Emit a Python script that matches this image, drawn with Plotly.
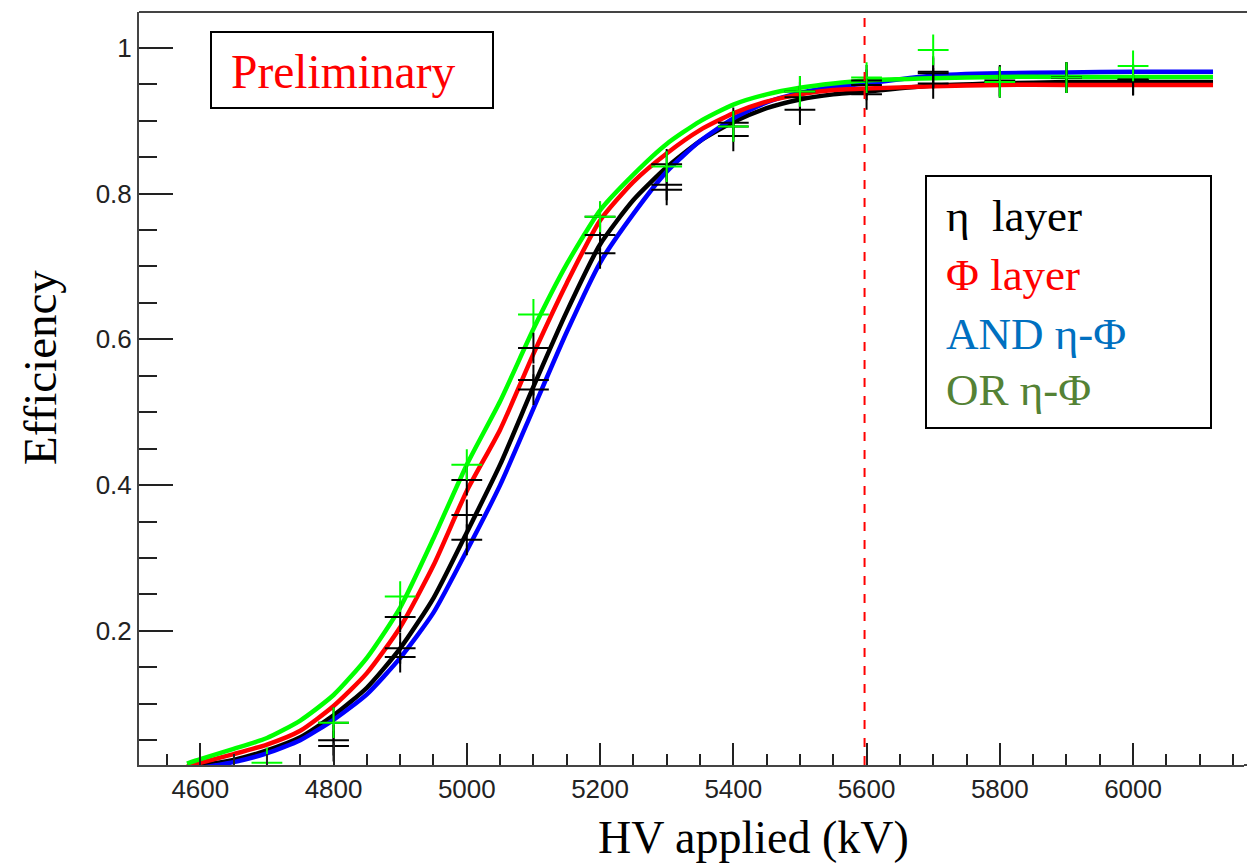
import plotly.graph_objects as go

# ---------------- data ----------------
hv_points = [4700, 4800, 4900, 5000, 5100, 5200, 5300, 5400, 5500, 5600, 5700, 5800, 5900, 6000]
or_points = [0.019, 0.074, 0.247, 0.428, 0.634, 0.768, 0.837, 0.892, 0.940, 0.959, 0.997, 0.953, 0.959, 0.975]
phi_points = [None, 0.074, 0.219, 0.407, 0.588, 0.768, 0.840, 0.897, 0.932, 0.955, 0.967, 0.953, 0.959, 0.956]
eta_points = [None, 0.050, 0.176, 0.359, 0.544, 0.743, 0.812, 0.892, 0.915, 0.949, 0.951, 0.955, 0.959, 0.956]
and_points = [None, 0.042, 0.164, 0.325, 0.531, 0.718, 0.805, 0.879, 0.940, 0.936, 0.965, 0.953, 0.959, 0.956]

hv_curve = [4580, 4600, 4650, 4700, 4750, 4800, 4850, 4900, 4950, 5000, 5050, 5100, 5150, 5200,
            5250, 5300, 5350, 5400, 5450, 5500, 5550, 5600, 5700, 5800, 5900, 6000, 6120]
eta_fit = [0.010, 0.015, 0.023, 0.036, 0.054, 0.084, 0.122, 0.176, 0.245, 0.335, 0.428, 0.535, 0.638, 0.730,
           0.791, 0.836, 0.872, 0.898, 0.917, 0.929, 0.936, 0.940, 0.948, 0.951, 0.953, 0.953, 0.953]
phi_fit = [0.014, 0.019, 0.031, 0.044, 0.063, 0.097, 0.142, 0.205, 0.290, 0.392, 0.476, 0.580, 0.677, 0.763,
           0.816, 0.855, 0.887, 0.910, 0.926, 0.936, 0.942, 0.944, 0.947, 0.949, 0.949, 0.949, 0.949]
and_fit = [0.008, 0.012, 0.020, 0.032, 0.050, 0.078, 0.113, 0.163, 0.225, 0.310, 0.400, 0.505, 0.610, 0.705,
           0.772, 0.830, 0.872, 0.903, 0.925, 0.938, 0.946, 0.951, 0.962, 0.965, 0.966, 0.967, 0.967]
or_fit = [0.018, 0.024, 0.038, 0.053, 0.077, 0.112, 0.163, 0.232, 0.327, 0.428, 0.515, 0.614, 0.703, 0.777,
          0.826, 0.868, 0.899, 0.922, 0.936, 0.945, 0.951, 0.955, 0.958, 0.960, 0.960, 0.960, 0.960]

operating_hv = 5597
y_tick_vals = [0.2, 0.4, 0.6, 0.8, 1.0]
y_tick_text = ["0.2", "0.4", "0.6", "0.8", "1"]
legend_labels = ["η\u00a0\u00a0layer", "Φ layer", "AND η-Φ", "OR η-Φ"]
legend_colors = ["#000000", "#FF0000", "#0070C0", "#548235"]

SERIF = "Liberation Serif, Times New Roman, serif"
SANS = "Liberation Sans, Arial, Helvetica, sans-serif"

fig = go.Figure()

curves = [(eta_fit, "#000000"), (and_fit, "#0000FF"), (phi_fit, "#FF0000"), (or_fit, "#00FF00")]
for vals, col in curves:
    fig.add_trace(go.Scatter(x=hv_curve, y=vals, mode="lines",
                             line=dict(color=col, width=4.5, shape="spline", smoothing=0.6),
                             showlegend=False, hoverinfo="skip"))

for pts, col in [(eta_points, "#000000"), (phi_points, "#000000"), (and_points, "#000000"), (or_points, "#00FF00")]:
    fig.add_trace(go.Scatter(x=hv_points, y=pts, mode="markers",
                             marker=dict(symbol="cross-thin", size=22, line=dict(color=col, width=2)),
                             showlegend=False, cliponaxis=True))

# plot-area geometry (px): left 139, right 1244 (frame continues to page edge), top 12, bottom 765
L, R, T, B = 139, 1244, 12, 765
W, H = R - L, B - T
def px(xp):
    return (xp - L) / W
def py(yp):
    return (B - yp) / H

fig.add_shape(type="line", xref="x", yref="paper", x0=operating_hv, x1=operating_hv, y0=0, y1=1,
              line=dict(color="#FF0000", width=2, dash="dash"))
# top frame line (extends to the page edge)
fig.add_shape(type="line", xref="paper", yref="paper", x0=0, x1=px(1247), y0=1, y1=1,
              line=dict(color="#444", width=2))
fig.add_shape(type="line", xref="paper", yref="paper", x0=1, x1=px(1247), y0=0, y1=0,
              line=dict(color="#444", width=2))

# "Preliminary" box
fig.add_shape(type="rect", xref="paper", yref="paper", x0=px(211), x1=px(493), y0=py(108), y1=py(32),
              line=dict(color="black", width=2), fillcolor="white")
fig.add_annotation(xref="paper", yref="paper", x=px(229), y=py(72), xanchor="left", yanchor="middle",
                   text="Preliminary", showarrow=False, font=dict(family=SERIF, size=47.5, color="#FF0000"))

# legend box
fig.add_shape(type="rect", xref="paper", yref="paper", x0=px(926), x1=px(1211), y0=py(428), y1=py(176),
              line=dict(color="black", width=2), fillcolor="white")
for lab, col, yc in zip(legend_labels, legend_colors, [216, 275, 334, 390]):
    fig.add_annotation(xref="paper", yref="paper", x=px(944), y=py(yc), xanchor="left", yanchor="middle",
                       text=lab, showarrow=False, font=dict(family=SERIF, size=45, color=col))

# axis titles
fig.add_annotation(xref="paper", yref="paper", x=px(753), y=py(838), xanchor="center", yanchor="middle",
                   text="HV applied (kV)", showarrow=False, font=dict(family=SERIF, size=46, color="black"))
fig.add_annotation(xref="paper", yref="paper", x=px(40), y=py(368), xanchor="center", yanchor="middle",
                   text="Efficiency", textangle=-90, showarrow=False,
                   font=dict(family=SERIF, size=47, color="black"))

fig.update_xaxes(range=[4508, 6166.5], tickmode="linear", tick0=4600, dtick=200,
                 ticks="inside", ticklen=22, tickwidth=2, tickcolor="#222",
                 minor=dict(dtick=50, tick0=4600, ticks="inside", ticklen=11, tickwidth=2, tickcolor="#222"),
                 showline=True, linecolor="#444", linewidth=2, mirror=False,
                 showgrid=False, zeroline=False,
                 tickfont=dict(family=SANS, size=26, color="#222"))
fig.update_yaxes(range=[0.016, 1.049], tickmode="array", tickvals=y_tick_vals, ticktext=y_tick_text,
                 ticks="inside", ticklen=34, tickwidth=2, tickcolor="#222",
                 minor=dict(dtick=0.05, tick0=0, ticks="inside", ticklen=18, tickwidth=2, tickcolor="#222"),
                 showline=True, linecolor="#444", linewidth=2, mirror=False,
                 showgrid=False, zeroline=False,
                 tickfont=dict(family=SANS, size=26, color="#222"))

fig.update_layout(width=1247, height=865, margin=dict(l=L, r=1247 - R, t=T, b=865 - B),
                  plot_bgcolor="white", paper_bgcolor="white", showlegend=False)

fig.write_html("out.html")
